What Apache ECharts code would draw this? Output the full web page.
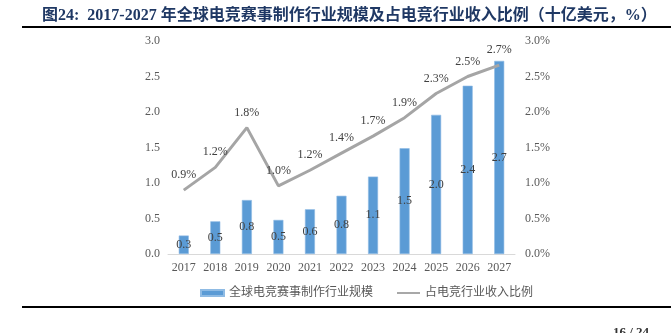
<!DOCTYPE html>
<html>
<head>
<meta charset="utf-8">
<script src="https://cdn.jsdelivr.net/npm/echarts@6/dist/echarts.min.js"></script>
<style>
  html, body { margin: 0; padding: 0; background: #fff; }
  #chart { width: 671px; height: 333px; }
</style>
</head>
<body>
<div id="chart"></div>
<script>
// Years on the category axis
const years = ['2017', '2018', '2019', '2020', '2021', '2022', '2023', '2024', '2025', '2026', '2027'];
// Global esports event production market size (billion USD)
const marketSize = [0.26, 0.46, 0.76, 0.48, 0.63, 0.82, 1.09, 1.49, 1.96, 2.37, 2.72];
// Share of total esports industry revenue (%)
const revenueShare = [0.90, 1.22, 1.78, 0.96, 1.18, 1.42, 1.66, 1.92, 2.26, 2.50, 2.66];
// Left and right axis tick labels
const leftTicks = ['0.0', '0.5', '1.0', '1.5', '2.0', '2.5', '3.0'];
const rightTicks = ['0.0%', '0.5%', '1.0%', '1.5%', '2.0%', '2.5%', '3.0%'];

const seriesNames = ['全球电竞赛事制作行业规模', '占电竞行业收入比例'];
const titleText = '图24:  2017-2027 年全球电竞赛事制作行业规模及占电竞行业收入比例（十亿美元，%）';

const serif = '"Liberation Serif", "Times New Roman", "Noto Sans CJK SC", serif';
const textGray = '#595959';
const labelGray = '#404040';

const chart = echarts.init(document.getElementById('chart'), null, { renderer: 'canvas' });

chart.setOption({
  animation: false,
  backgroundColor: '#ffffff',
  title: {
    text: titleText,
    left: 37,
    top: 3,
    textStyle: {
      fontFamily: serif,
      fontWeight: 'bold',
      fontSize: 16,
      color: '#1f3864'
    }
  },
  graphic: [
    { type: 'line', shape: { x1: 22, y1: 27, x2: 671, y2: 27 }, style: { stroke: '#000', lineWidth: 2 } },
    { type: 'line', shape: { x1: 22, y1: 307, x2: 671, y2: 307 }, style: { stroke: '#000', lineWidth: 2 } },
    { type: 'text', left: 613, top: 326, style: { text: '16 / 24', fontFamily: serif, fontSize: 13, fontWeight: 'bold', fill: '#333' } }
  ],
  grid: { left: 168, right: 156, top: 41, bottom: 79, containLabel: false },
  legend: {
    left: 195,
    top: 282,
    itemWidth: 23,
    itemHeight: 6,
    itemGap: 24,
    textStyle: { fontFamily: serif, fontSize: 12, color: textGray },
    data: [
      { name: seriesNames[0], icon: 'rect' },
      { name: seriesNames[1], icon: 'path://M0,2H24V4H0Z' }
    ]
  },
  xAxis: {
    type: 'category',
    data: years,
    axisLine: { lineStyle: { color: '#d9d9d9', width: 1 } },
    axisTick: { show: false },
    axisLabel: { color: textGray, fontFamily: serif, fontSize: 12, margin: 8 }
  },
  yAxis: [
    {
      type: 'value',
      min: 0, max: 3, interval: 0.5,
      splitLine: { show: false },
      axisLine: { show: false },
      axisTick: { show: false },
      axisLabel: {
        color: textGray, fontFamily: serif, fontSize: 12, margin: 8,
        formatter: (v) => leftTicks[Math.round(v / 0.5)]
      }
    },
    {
      type: 'value',
      min: 0, max: 3, interval: 0.5,
      splitLine: { show: false },
      axisLine: { show: false },
      axisTick: { show: false },
      axisLabel: {
        color: textGray, fontFamily: serif, fontSize: 12, margin: 10,
        formatter: (v) => rightTicks[Math.round(v / 0.5)]
      }
    }
  ],
  series: [
    {
      name: seriesNames[0],
      type: 'bar',
      yAxisIndex: 0,
      data: marketSize,
      barWidth: 10,
      itemStyle: { color: '#5b9bd5', borderColor: '#8fbbe4', borderWidth: 0.6 },
      label: {
        show: true,
        position: 'inside',
        color: labelGray,
        fontFamily: serif,
        fontSize: 12,
        formatter: (p) => p.value.toFixed(1)
      }
    },
    {
      name: seriesNames[1],
      type: 'line',
      yAxisIndex: 1,
      data: revenueShare,
      symbol: 'circle',
      symbolSize: 0.1,
      showSymbol: true,
      lineStyle: { color: '#a5a5a5', width: 3 },
      itemStyle: { color: '#a5a5a5' },
      label: {
        show: true,
        position: 'top',
        distance: 9,
        color: labelGray,
        fontFamily: serif,
        fontSize: 12,
        formatter: (p) => p.value.toFixed(1) + '%'
      }
    }
  ]
});
</script>
</body>
</html>
